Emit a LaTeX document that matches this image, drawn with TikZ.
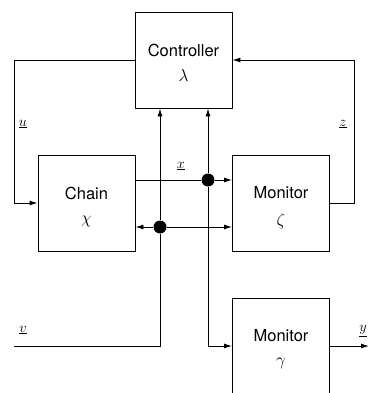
\documentclass[tikz,border=0pt]{standalone}
\usepackage{fontspec}
\setmainfont{TeX Gyre Heros}
\usetikzlibrary{arrows.meta}
\begin{document}
\begin{tikzpicture}[x=1pt,y=-1pt,
  blk/.style={draw,line width=0.9pt,minimum width=97pt,minimum height=96pt,inner sep=0pt},
  txt/.style={font=\fontsize{16.5}{20}\selectfont,inner sep=0pt},
  conn/.style={line width=0.9pt},
  arr/.style={conn,-{Latex[length=8pt,width=5pt]}},
  dotn/.style={circle,fill,inner sep=0pt,minimum size=13pt},
  lbl/.style={font=\fontsize{15}{17}\selectfont}]
\useasboundingbox (0,0) rectangle (371,393);
\node[blk] (ctrl) at (183.5,60) {};
\node[blk] (chain) at (86.5,203) {};
\node[blk] (monz) at (281,203) {};
\node[blk] (mong) at (281,346) {};
\node[txt] (ctrlt) at (183.5,50) {Controller};
\node[txt] (ctrll) at (183.5,76) {$\lambda$};
\node[txt] (chaint) at (86.5,193) {Chain};
\node[txt] (chainl) at (86.5,221) {$\chi$};
\node[txt] (monzt) at (281,193) {Monitor};
\node[txt] (monzl) at (281,221) {$\zeta$};
\node[txt] (mongt) at (281,336) {Monitor};
\node[txt] (mongl) at (281,363) {$\gamma$};
\node[dotn] (d1) at (208,180) {};
\node[dotn] (d2) at (160,227) {};
\coordinate (vin) at (14,346);
\coordinate (yout) at (369,346);
% u feedback
\draw[arr] (ctrl.west) -| (14,203) -- (chain.west);
% z feedback
\draw[arr] (monz.east) -| (354,60) -- (ctrl.east);
% x signal
\draw[conn] (chain.east |- d1) -- (d1);
\draw[arr] (d1) -- (monz.west |- d1);
\draw[arr] (d1) -- (ctrl.south -| d1);
\draw[arr] (d1) |- (mong.west);
% lower bus
\draw[arr] (d2) -- (chain.east |- d2);
\draw[arr] (d2) -- (monz.west |- d2);
\draw[arr] (d2) -- (ctrl.south -| d2);
\draw[conn] (vin) -| (d2);
% output
\draw[arr] (mong.east) -- (yout);
% labels
\node[lbl] (lu) at (23,124) {$\underline{u}$};
\node[lbl] (lz) at (343,124) {$\underline{z}$};
\node[lbl] (lx) at (181,166) {$\underline{x}$};
\node[lbl] (lv) at (23,330) {$\underline{v}$};
\node[lbl] (ly) at (363,331) {$\underline{y}$};
\end{tikzpicture}
\end{document}
